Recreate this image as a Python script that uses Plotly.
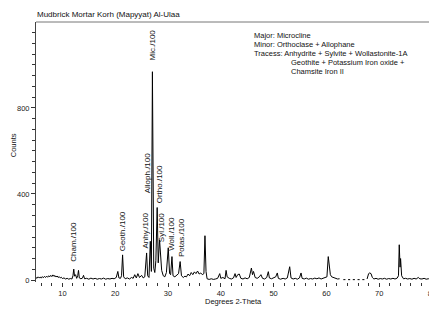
import plotly.graph_objects as go

title_text = "Mudbrick Mortar Korh (Mapyyat) Al-Ulaa"

two_theta = [
    5.0, 5.2, 5.4, 5.6, 5.8, 6.0, 6.2, 6.4, 6.6, 6.8, 7.0, 7.2, 7.4, 7.6, 7.8, 8.0, 8.2, 8.4, 8.6, 8.8,
    9.0, 9.2, 9.4, 9.6, 9.8, 10.0, 10.3, 10.6, 10.9, 11.2, 11.5, 11.8, 12.0, 12.15, 12.3, 12.5, 12.7, 12.9,
    13.05, 13.2, 13.5, 13.8, 14.0, 14.2, 14.6, 15.0, 15.4, 15.8, 16.2, 16.6, 17.0, 17.4, 17.8, 18.2, 18.6,
    19.0, 19.4, 19.8, 20.2, 20.5, 20.7, 21.0, 21.2, 21.4, 21.6, 21.9, 22.3, 22.7, 23.1, 23.4, 23.7, 24.0,
    24.3, 24.6, 25.0, 25.3, 25.6, 25.95, 26.15, 26.4, 26.65, 26.85, 27.05, 27.3, 27.5, 27.7, 27.95, 28.15,
    28.4, 28.6, 28.8, 29.1, 29.4, 29.7, 29.9, 30.05, 30.3, 30.5, 30.75, 30.95, 31.3, 31.7, 32.0, 32.3,
    32.55, 32.9, 33.2, 33.5, 33.8, 34.1, 34.4, 34.7, 35.0, 35.3, 35.6, 35.9, 36.2, 36.5, 36.8, 37.0, 37.2,
    37.4, 37.8, 38.2, 38.6, 39.0, 39.4, 39.8, 40.0, 40.4, 40.8, 41.0, 41.2, 41.6, 42.0, 42.4, 42.7, 42.9,
    43.2, 43.5, 43.8, 44.2, 44.6, 45.0, 45.4, 45.8, 46.0, 46.2, 46.5, 46.9, 47.3, 47.6, 47.9, 48.3, 48.7,
    49.0, 49.2, 49.6, 50.0, 50.4, 50.7, 50.9, 51.3, 51.8, 52.2, 52.6, 53.05, 53.3, 53.7, 54.1, 54.5, 54.9,
    55.2, 55.4, 55.8, 56.2, 56.6, 57.0, 57.4, 57.8, 58.2, 58.6, 59.0, 59.4, 59.8, 60.1, 60.35, 60.55,
    60.75, 61.0, 61.3, 61.7, 62.1, 62.5, 62.8, 63.2, 63.6, 63.8, 64.1, 64.5, 64.7, 65.0, 65.4, 65.6, 65.9,
    66.3, 66.5, 66.8, 67.2, 67.4, 67.7, 68.0, 68.2, 68.45, 68.7, 69.0, 69.4, 69.8, 70.2, 70.6, 71.0, 71.4,
    71.8, 72.2, 72.6, 73.0, 73.4, 73.65, 73.8, 73.95, 74.05, 74.25, 74.6, 75.0, 75.4, 75.8, 76.2, 76.6,
    77.0, 77.4, 77.7, 78.1, 78.5, 78.9, 79.3, 79.7, 80.0,
]

counts = [
    12, 8, 15, 10, 14, 9, 16, 11, 17, 12, 18, 13, 20, 15, 22, 16, 24, 17, 21, 14,
    19, 12, 16, 10, 13, 7, 10, 5, 8, 4, 7, 5, 20, 51, 18, 25, 8, 20,
    45, 10, 6, 9, 22, 6, 8, 4, 9, 5, 8, 4, 7, 5, 9, 4, 7,
    5, 8, 6, 12, 40, 10, 8, 20, 117, 15, 6, 10, 5, 12, 8, 25, 10,
    30, 12, 22, 10, 15, 126, 20, 12, 180, 40, 968, 55, 35, 90, 337, 80,
    187, 130, 45, 20, 15, 35, 90, 150, 30, 25, 109, 20, 15, 25, 30, 86,
    20, 12, 18, 15, 28, 20, 35, 25, 38, 30, 42, 28, 33, 25, 30, 206, 40,
    6, 3, 6, 3, 5, 8, 30, 8, 12, 6, 45, 15, 8, 5, 10, 30, 12,
    25, 28, 8, 5, 10, 6, 12, 56, 25, 40, 12, 8, 15, 25, 8, 5, 12,
    39, 10, 6, 10, 15, 33, 8, 4, 8, 5, 10, 62, 10, 5, 8, 4, 10,
    33, 8, 5, 9, 4, 7, 5, 9, 6, 10, 5, 8, 12, 15, 109, 60,
    25, 15, 12, 8, 5, 6, None, 2, 2, None, 2, 2, None, 2, 2, None, 2,
    2, None, 2, 2, None, 5, 30, 33, 30, 12, 5, 8, 4, 7, 5, 8, 4,
    7, 5, 8, 5, 9, 20, 164, 60, 100, 20, 6, 8, 5, 7, 4, 8,
    5, 12, 6, 5, 8, 4, 6, 4, 5,
]

peak_labels = ["Cham./100", "Geoth./100", "Anhy./100", "Alloph./100", "Mic./100",
               "Ortho./100", "Syl./100", "Woll./100", "Potas./100"]
peak_label_x = [12.18, 21.37, 25.76, 26.1, 27.03, 28.4, 28.9, 30.75, 32.6]
peak_label_y = [80, 131, 140, 398, 1015, 350, 170, 131, 103]

phase_lines = [
    "Major: Microcline",
    "Minor: Orthoclase + Allophane",
    "Tracess: Anhydrite + Sylvite + Wollastonite-1A",
    "Geothite + Potassium Iron oxide +",
    "Chamsite Iron II",
]

FONT = "Liberation Sans, Arial, sans-serif"
OFF = 8  # page body margin offset in the viewer
W, H = 437 - OFF, 309 - OFF
L, R, T, B = 36 - OFF, 1, 22 - OFF, 27
pw, ph = W - L - R, H - T - B

fig = go.Figure()
fig.add_trace(go.Scatter(x=two_theta, y=counts, mode="lines",
                         line=dict(color="#000000", width=1), connectgaps=False,
                         hoverinfo="skip", showlegend=False))

for txt, xv, yv in zip(peak_labels, peak_label_x, peak_label_y):
    fig.add_annotation(x=xv, y=yv, xref="x", yref="y", text=txt, textangle=-90,
                       showarrow=False, xanchor="center", yanchor="bottom",
                       font=dict(family=FONT, size=8, color="#111111"), borderpad=0)

# helpers: convert screen pixel positions (as seen in the viewer) to paper coords
def px_x(px):
    return (px - OFF - L) / pw

def px_y(py):
    return (H - B - (py - OFF)) / ph

phase_pos = [(255, 35), (255, 44.5), (255, 53.7), (292.7, 62.7), (292.7, 71.7)]
for txt, (xx, yy) in zip(phase_lines, phase_pos):
    fig.add_annotation(x=px_x(xx), y=px_y(yy), xref="paper", yref="paper", text=txt,
                       showarrow=False, xanchor="left", yanchor="middle",
                       font=dict(family=FONT, size=7.5, color="#111111"), borderpad=0)

fig.add_annotation(x=px_x(36), y=px_y(14), xref="paper", yref="paper", text=title_text,
                   showarrow=False, xanchor="left", yanchor="middle",
                   font=dict(family=FONT, size=8, color="#111111"), borderpad=0)
fig.add_annotation(x=px_x(13), y=px_y(145), xref="paper", yref="paper", text="Counts",
                   textangle=-90, showarrow=False, xanchor="center", yanchor="middle",
                   font=dict(family=FONT, size=7.5, color="#111111"), borderpad=0)
fig.add_annotation(x=px_x(235.5), y=px_y(301.5), xref="paper", yref="paper",
                   text="Degrees 2-Theta", showarrow=False, xanchor="center", yanchor="middle",
                   font=dict(family=FONT, size=7.5, color="#111111"), borderpad=0)

# frame: top and right borders
fig.add_shape(type="line", xref="paper", yref="paper", x0=0, x1=1, y0=1, y1=1,
              line=dict(color="#777777", width=1))
fig.add_shape(type="line", xref="paper", yref="paper", x0=1, x1=1, y0=0, y1=1,
              line=dict(color="#777777", width=1))

fig.update_xaxes(range=[5, 80], dtick=10, tick0=0, ticks="outside", ticklen=4,
                 tickcolor="#333333", tickwidth=1, showline=False, showgrid=False,
                 zeroline=False, ticklabeloverflow="allow",
                 tickfont=dict(family=FONT, size=7.5, color="#222222"),
                 minor=dict(dtick=2, tick0=0, ticks="outside", ticklen=3,
                            tickcolor="#333333", showgrid=False))
fig.update_yaxes(range=[-9, 1199], dtick=400, tick0=0, ticks="outside", ticklen=4,
                 tickcolor="#333333", tickwidth=1, showline=True, linecolor="#444444",
                 linewidth=1, showgrid=False, zeroline=False,
                 tickfont=dict(family=FONT, size=7.5, color="#222222"),
                 minor=dict(dtick=50, tick0=0, ticks="outside", ticklen=3,
                            tickcolor="#333333", showgrid=False))

fig.update_layout(width=W, height=H, margin=dict(l=L, r=R, t=T, b=B, pad=0),
                  paper_bgcolor="white", plot_bgcolor="white", showlegend=False)

fig.write_html("out.html")
